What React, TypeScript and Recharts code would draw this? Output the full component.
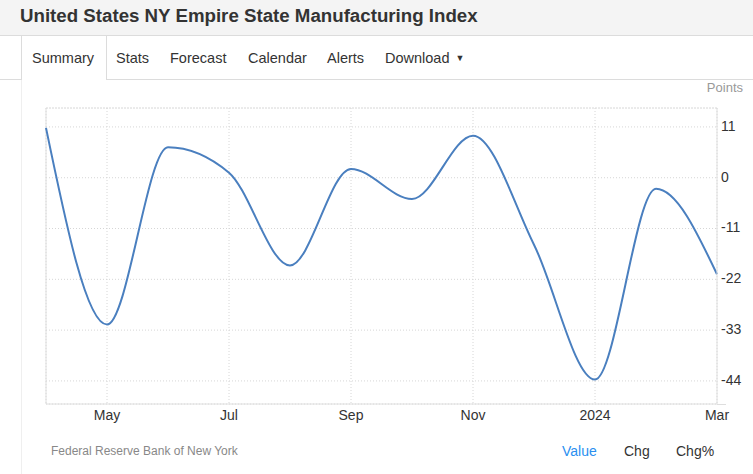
import React from 'react';
import { LineChart, Line, XAxis, YAxis, CartesianGrid, ReferenceLine } from 'recharts';

const months = ['Apr 2023', 'May 2023', 'Jun 2023', 'Jul 2023', 'Aug 2023', 'Sep 2023', 'Oct 2023', 'Nov 2023', 'Dec 2023', 'Jan 2024', 'Feb 2024', 'Mar 2024'];
const values = [10.8, -31.8, 6.6, 1.1, -19.0, 1.9, -4.6, 9.1, -14.5, -43.7, -2.4, -20.9];
const xTickIndex = [1, 3, 5, 7, 9, 11];
const xTickLabels = ['May', 'Jul', 'Sep', 'Nov', '2024', 'Mar'];
const yTicks = [11, 0, -11, -22, -33, -44];
const yMin = -49;
const yMax = 15.1;
const tabs = ['Summary', 'Stats', 'Forecast', 'Calendar', 'Alerts', 'Download'];
const tabX = [32, 116, 170, 248, 327, 385];
const footerTabs = ['Value', 'Chg', 'Chg%'];
const footerX = [562, 624, 676];

const data = months.map((m, i) => ({ i, month: m, value: values[i] }));

const FONT = '"Liberation Sans", Arial, Helvetica, sans-serif';

export default function App() {
  return (
    <div style={{ position: 'fixed', left: 0, top: 0, width: 753, height: 474, background: '#fff', overflow: 'hidden', fontFamily: FONT }}>
      {/* header */}
      <div style={{ position: 'absolute', left: 0, top: 0, width: 753, height: 35, background: '#f4f4f4', borderBottom: '1px solid #dcdcdc' }} />
      <div style={{ position: 'absolute', left: 20, top: 4, height: 24, lineHeight: '24px', fontSize: 18.7, fontWeight: 'bold', color: '#333', whiteSpace: 'nowrap' }}>
        United States NY Empire State Manufacturing Index
      </div>
      {/* tab bar */}
      <div style={{ position: 'absolute', left: 0, top: 79, width: 21, height: 1, background: '#dcdcdc' }} />
      <div style={{ position: 'absolute', left: 106, top: 79, width: 647, height: 1, background: '#dcdcdc' }} />
      <div style={{ position: 'absolute', left: 21, top: 36, width: 1, height: 44, background: '#dcdcdc' }} />
      <div style={{ position: 'absolute', left: 106, top: 36, width: 1, height: 44, background: '#dcdcdc' }} />
      <div style={{ position: 'absolute', left: 21, top: 80, width: 1, height: 394, background: '#efefef' }} />
      {tabs.map((t, k) => (
        <div key={t} style={{ position: 'absolute', left: tabX[k], top: 48, height: 20, lineHeight: '20px', fontSize: 14.5, color: '#333', whiteSpace: 'nowrap' }}>
          {t}
          {t === 'Download' ? <span style={{ fontSize: 9, marginLeft: 6, position: 'relative', top: -2 }}>▼</span> : null}
        </div>
      ))}
      <div style={{ position: 'absolute', right: 10, top: 80, height: 16, lineHeight: '16px', fontSize: 13, color: '#999', textAlign: 'right' }}>Points</div>

      <LineChart
        width={753}
        height={474}
        data={data}
        margin={{ top: 108, left: 46, right: 6, bottom: 40 }}
        style={{ position: 'absolute', left: 0, top: 0 }}
      >
        <CartesianGrid strokeDasharray="1 2" stroke="#d6d6d6" />
        <ReferenceLine y={yMax} stroke="#d6d6d6" strokeDasharray="1 2" ifOverflow="extendDomain" />
        <ReferenceLine x={0} stroke="#dedede" />
        <XAxis
          dataKey="i"
          type="number"
          domain={[0, 11]}
          ticks={xTickIndex}
          interval={0}
          tickFormatter={(v: number) => xTickLabels[xTickIndex.indexOf(v)]}
          tickSize={0}
          tickMargin={6}
          tickLine={false}
          axisLine={{ stroke: '#dedede' }}
          tick={{ fill: '#333', fontSize: 14, fontFamily: FONT }}
          height={30}
        />
        <YAxis
          orientation="right"
          type="number"
          domain={[yMin, yMax]}
          ticks={yTicks}
          interval={0}
          allowDataOverflow
          tickSize={0}
          tickMargin={4}
          tickLine={false}
          axisLine={{ stroke: '#dedede' }}
          tick={{ fill: '#333', fontSize: 14, fontFamily: FONT, dy: -1 }}
          width={30}
        />
        <Line type="monotone" dataKey="value" stroke="#4a7fbf" strokeWidth={2} dot={false} isAnimationActive={false} />
      </LineChart>
      <div style={{ position: 'absolute', left: 717, top: 403.5, width: 9, height: 1, background: '#dedede' }} />

      {/* footer */}
      <div style={{ position: 'absolute', left: 51, top: 443, height: 16, lineHeight: '16px', fontSize: 12, color: '#888', whiteSpace: 'nowrap' }}>
        Federal Reserve Bank of New York
      </div>
      {footerTabs.map((t, k) => (
        <div key={t} style={{ position: 'absolute', left: footerX[k], top: 442, height: 18, lineHeight: '18px', fontSize: 14, color: k === 0 ? '#2a8ff0' : '#333', whiteSpace: 'nowrap' }}>
          {t}
        </div>
      ))}
    </div>
  );
}
